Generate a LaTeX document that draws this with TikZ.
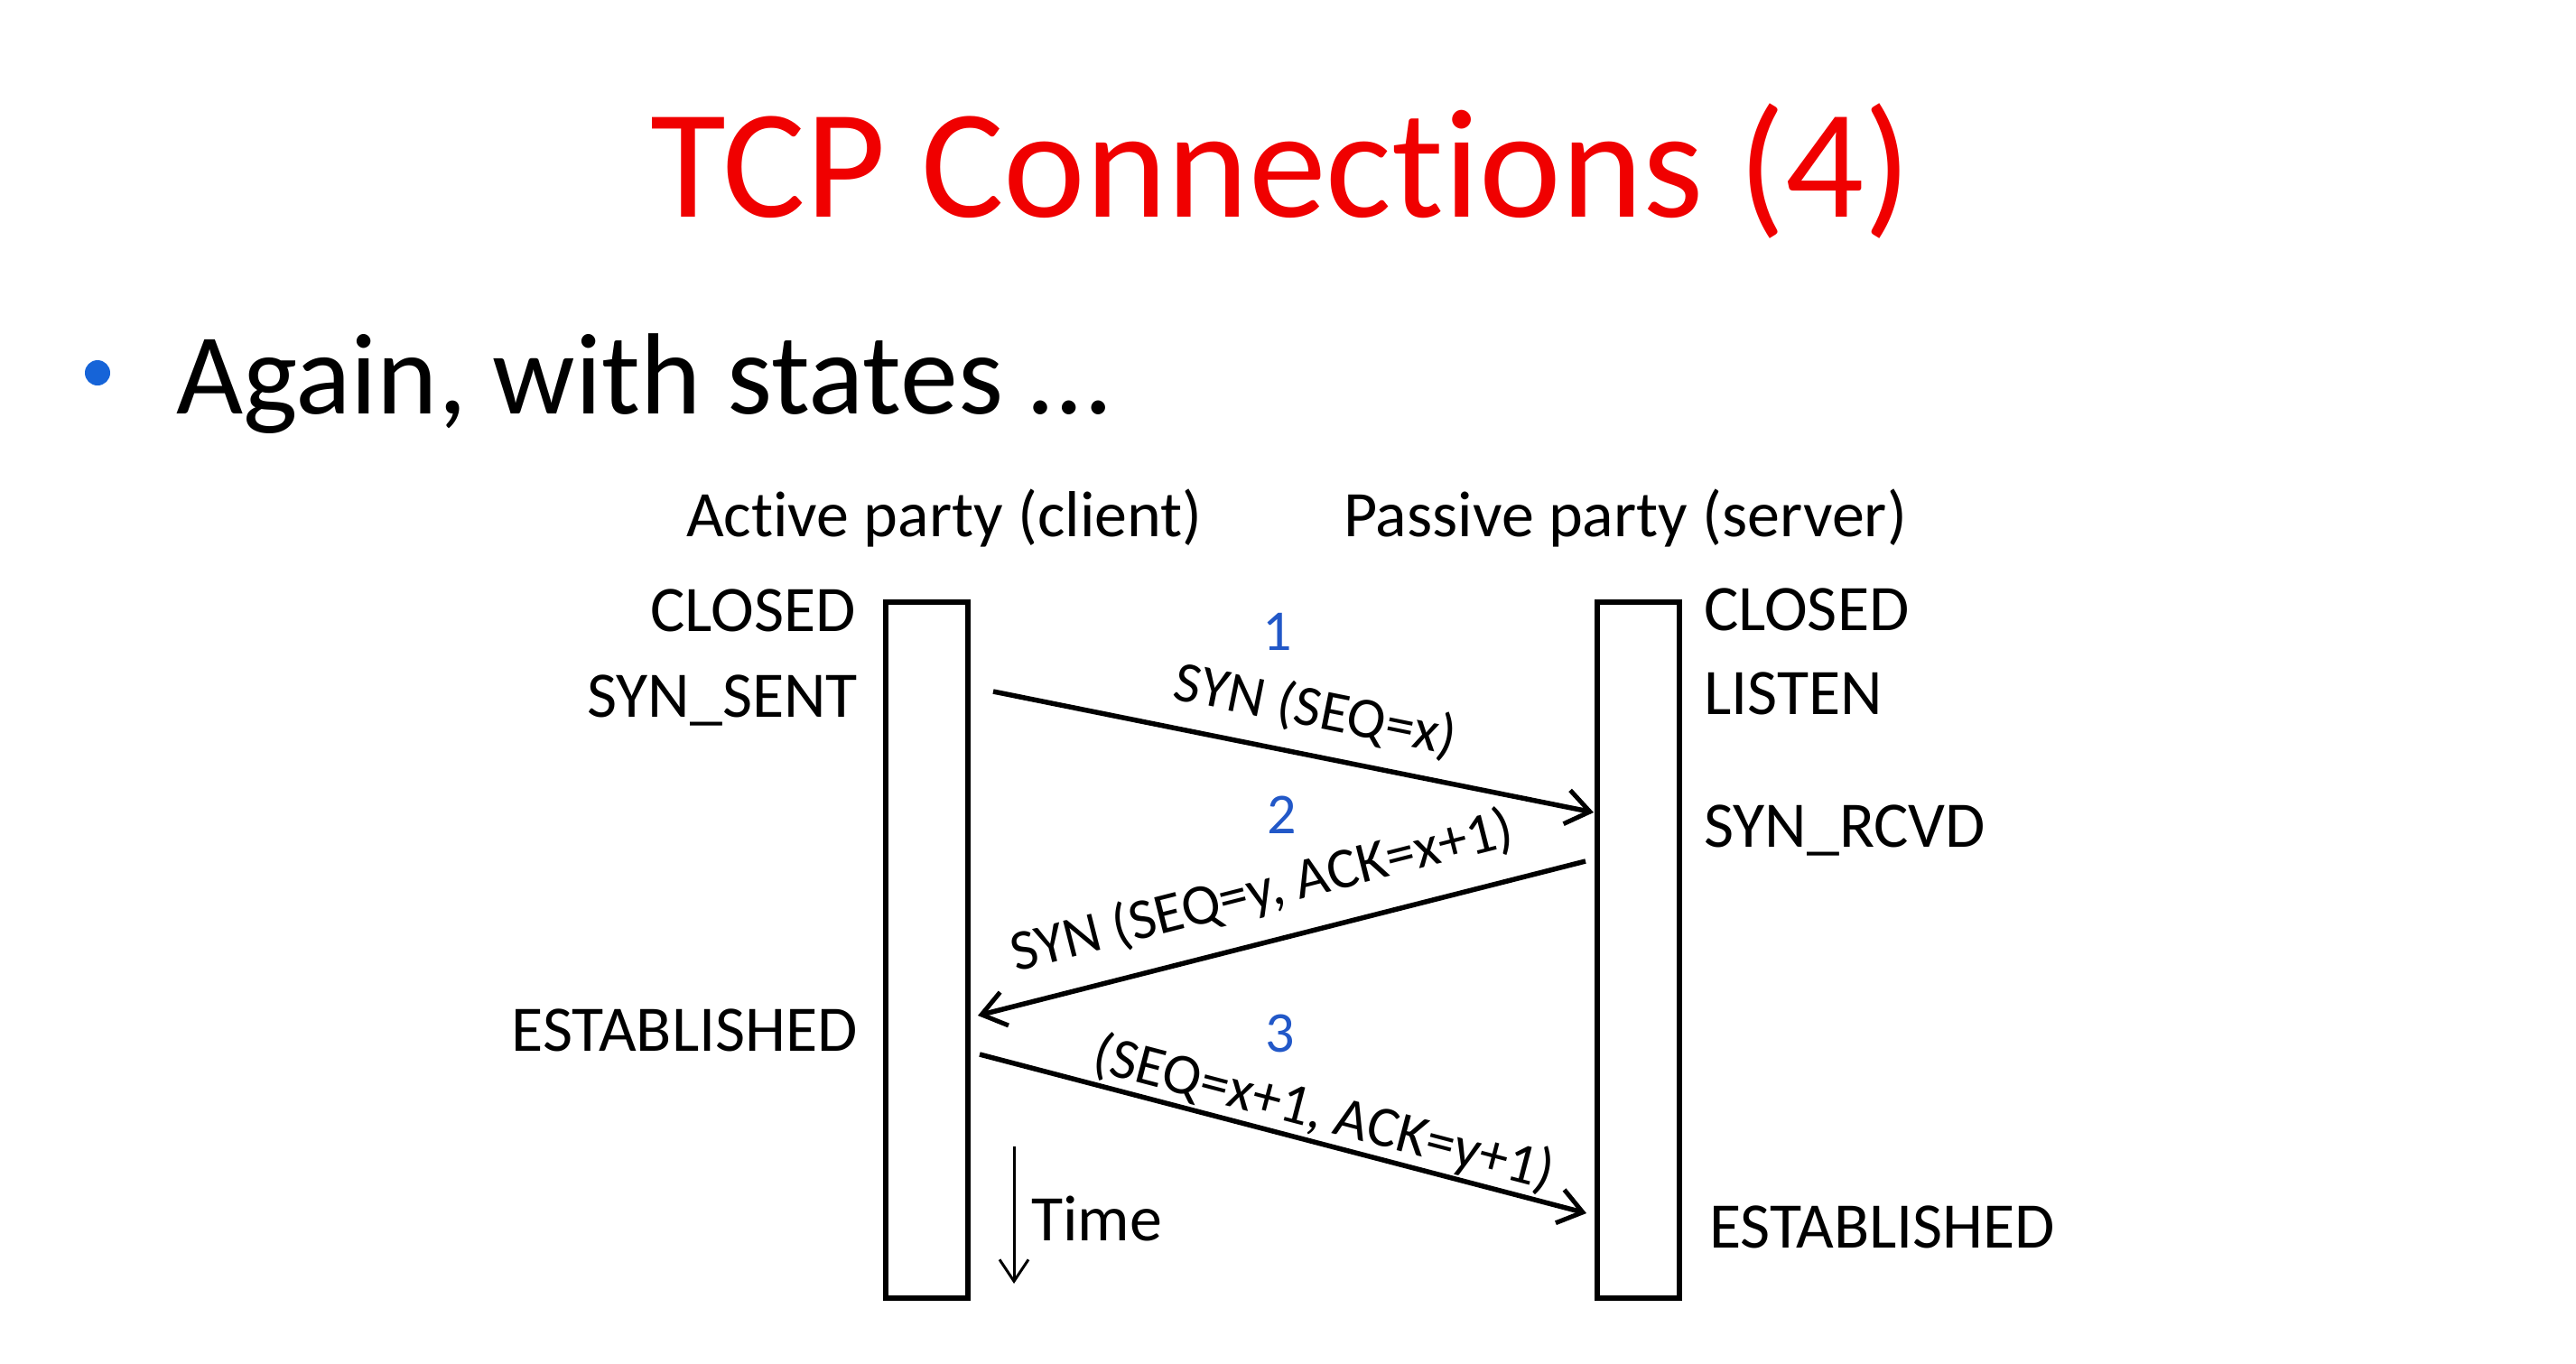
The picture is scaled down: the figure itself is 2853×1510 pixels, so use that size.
\documentclass[tikz,border=0pt]{standalone}
\usepackage{fontspec}
\setmainfont{Carlito}[Ligatures={NoCommon}]
\usetikzlibrary{arrows.meta}

\definecolor{titlered}{RGB}{240,0,0}
\definecolor{numblue}{RGB}{34,88,200}
\definecolor{bulletblue}{RGB}{22,100,216}

% separate t and i so that no "ti" ligature forms
\newcommand{\tisep}{t\kern0pt i}

\tikzset{
  txt/.style={inner sep=0pt, font=\fontsize{72}{80}\selectfont},
  msg/.style={inner sep=0pt, font=\fontsize{64}{72}\selectfont},
  stepnum/.style={inner sep=0pt, anchor=base, text=numblue, font=\fontsize{64}{72}\selectfont},
  lifeline/.style={draw, line width=6pt, minimum width=91pt, minimum height=771pt, inner sep=0pt},
  msgarrow/.style={line width=5.5pt, -{Straight Barb[length=26pt,width=38pt,line width=5pt]}},
  timearrow/.style={line width=3pt, -{Straight Barb[length=24pt,width=32pt,line width=3pt]}}
}

\begin{document}
\begin{tikzpicture}[x=1pt,y=-1pt]
  \useasboundingbox (0,0) rectangle (2853,1510);

  % heading and bullet line
  \node[inner sep=0pt, anchor=base, text=titlered, font=\fontsize{172}{180}\selectfont] (title) at (1419,240) {TCP Connec\tisep ons (4)};
  \fill[bulletblue] (108,413) circle (14pt);
  \node[inner sep=0pt, anchor=base west, font=\fontsize{128}{140}\selectfont] (intro) at (195,458) {Again, with states …};

  % parties
  \node[txt, anchor=base west] (active) at (760,594) {Ac\tisep ve party (client)};
  \node[txt, anchor=base west] (passive) at (1488,594) {Passive party (server)};

  % lifelines
  \node[lifeline] (cbox) at (1026.5,1052.5) {};
  \node[lifeline] (sbox) at (1814,1052.5) {};

  % client states
  \node[txt, anchor=base east] (cclosed) at (948,699) {CLOSED};
  \node[txt, anchor=base east] (csent) at (950,794) {SYN\_SENT};
  \node[txt, anchor=base east] (cest) at (950,1164) {ESTABLISHED};

  % server states
  \node[txt, anchor=base west] (sclosed) at (1887,698) {CLOSED};
  \node[txt, anchor=base west] (slisten) at (1887,791) {LISTEN};
  \node[txt, anchor=base west] (srcvd) at (1887,938) {SYN\_RCVD};
  \node[txt, anchor=base west] (sest) at (1893,1382) {ESTABLISHED};

  % message end points on the lifelines
  \coordinate (m1a) at (1100,766);
  \coordinate (m1b) at (1765,900);
  \coordinate (m2a) at (1756,954);
  \coordinate (m2b) at (1083,1125);
  \coordinate (m3a) at (1085,1168);
  \coordinate (m3b) at (1757,1344);

  \draw[msgarrow] (m1a) -- (m1b);
  \draw[msgarrow] (m2a) -- (m2b);
  \draw[msgarrow] (m3a) -- (m3b);

  % step numbers
  \node[stepnum] (n1) at (1415,720) {1};
  \node[stepnum] (n2) at (1420,923) {2};
  \node[stepnum] (n3) at (1418,1165) {3};

  % message labels
  \node[msg, rotate=-11.4] (l1) at (1457,787) {SYN (SEQ=x)};
  \node[msg, rotate=14.26] (l2) at (1398,988) {SYN (SEQ=y, ACK=x+1)};
  \node[msg, rotate=-14.68] (l3) at (1466,1234) {(SEQ=x+1, ACK=y+1)};

  % time axis
  \coordinate (t0) at (1123,1270);
  \coordinate (t1) at (1123,1422);
  \draw[timearrow] (t0) -- (t1);
  \node[txt, anchor=base west] (time) at (1142,1374) {Time};
\end{tikzpicture}
\end{document}
